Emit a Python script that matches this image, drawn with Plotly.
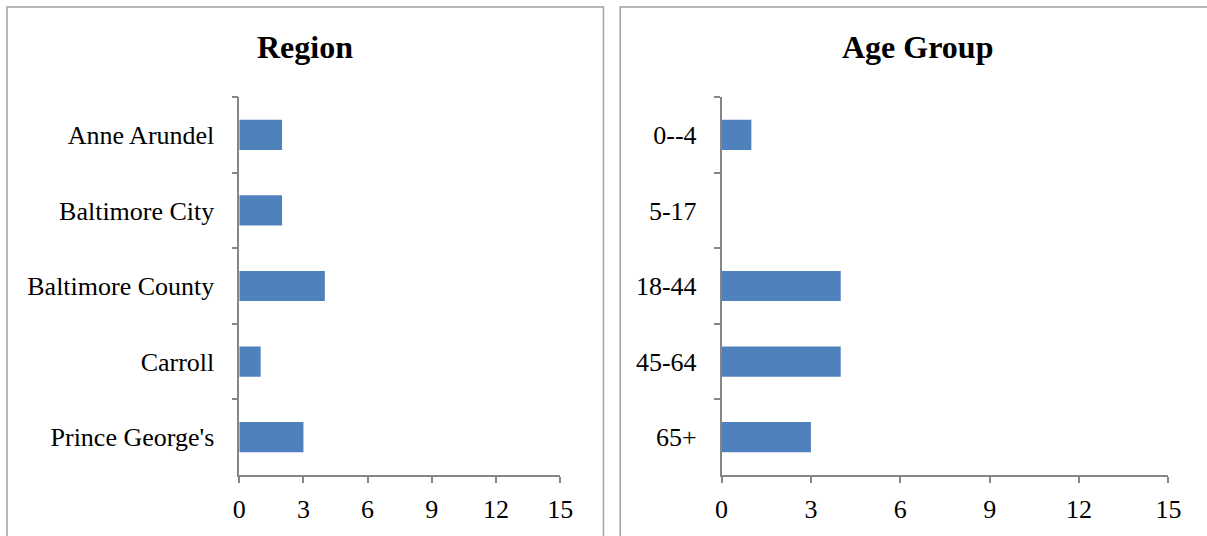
import plotly.graph_objects as go

W, H = 1207, 536

regions = ["Anne Arundel", "Baltimore City", "Baltimore County", "Carroll", "Prince George's"]
region_counts = [2, 2, 4, 1, 3]

age_groups = ["0--4", "5-17", "18-44", "45-64", "65+"]
age_counts = [1, 0, 4, 4, 3]

x_ticks = [0, 3, 6, 9, 12, 15]

BAR = "#4F81BD"
AXC = "#868686"
FONT = "Liberation Serif"

def px_x(p):
    return p / W

def px_y(p):
    return 1 - p / H

fig = go.Figure()
fig.add_trace(go.Bar(x=region_counts, y=regions, orientation="h", xaxis="x", yaxis="y",
                     marker=dict(color=BAR, line=dict(width=0)), width=0.4, showlegend=False))
fig.add_trace(go.Bar(x=age_counts, y=age_groups, orientation="h", xaxis="x2", yaxis="y2",
                     marker=dict(color=BAR, line=dict(width=0)), width=0.4, showlegend=False))

ydom = [px_y(475), px_y(97)]

xax = dict(range=[0, 15], tickvals=x_ticks, showgrid=False, zeroline=False, showline=True,
           linecolor=AXC, linewidth=1.5, ticks="outside", ticklen=6, tickcolor=AXC, tickwidth=1.5,
           ticklabelstandoff=4,
           tickfont=dict(family=FONT, size=26, color="black"), fixedrange=True)
yax = dict(type="category", range=[4.5, -0.5], showgrid=False, zeroline=False, showline=True,
           linecolor=AXC, linewidth=1.5, ticks="outside", ticklen=6, tickcolor=AXC, tickwidth=1.5,
           tickson="boundaries", ticklabelstandoff=18,
           tickfont=dict(family=FONT, size=26, color="black"), domain=ydom, fixedrange=True)

fig.update_layout(
    height=H,
    margin=dict(l=0, r=0, t=0, b=0),
    paper_bgcolor="white", plot_bgcolor="white",
    bargap=0.6,
    xaxis=dict(xax, domain=[px_x(237), px_x(563)], anchor="y"),
    yaxis=dict(yax, anchor="x"),
    xaxis2=dict(xax, domain=[px_x(727), px_x(1181)], anchor="y2"),
    yaxis2=dict(yax, anchor="x2"),
    shapes=[
        dict(type="rect", xref="paper", yref="paper", x0=px_x(1), x1=px_x(607), y0=-0.2, y1=px_y(7),
             line=dict(color="#A0A0A0", width=1.5), fillcolor="rgba(0,0,0,0)", layer="below"),
        dict(type="rect", xref="paper", yref="paper", x0=px_x(624), x1=1.2, y0=-0.2, y1=px_y(7),
             line=dict(color="#A0A0A0", width=1.5), fillcolor="rgba(0,0,0,0)", layer="below"),
    ],
    annotations=[
        dict(text="<b>Region</b>", x=px_x(304), y=px_y(47), xref="paper", yref="paper",
             showarrow=False, xanchor="center", yanchor="middle",
             font=dict(family=FONT, size=32, color="black")),
        dict(text="<b>Age Group</b>", x=px_x(926), y=px_y(47), xref="paper", yref="paper",
             showarrow=False, xanchor="center", yanchor="middle",
             font=dict(family=FONT, size=32, color="black")),
    ],
)

fig.write_html(
    "out.html",
    config={"displayModeBar": False, "responsive": True},
    post_script=(
        "document.body.style.margin='0';"
        "document.body.style.overflow='hidden';"
        "Plotly.Plots.resize(document.getElementById('{plot_id}'));"
    ),
)
